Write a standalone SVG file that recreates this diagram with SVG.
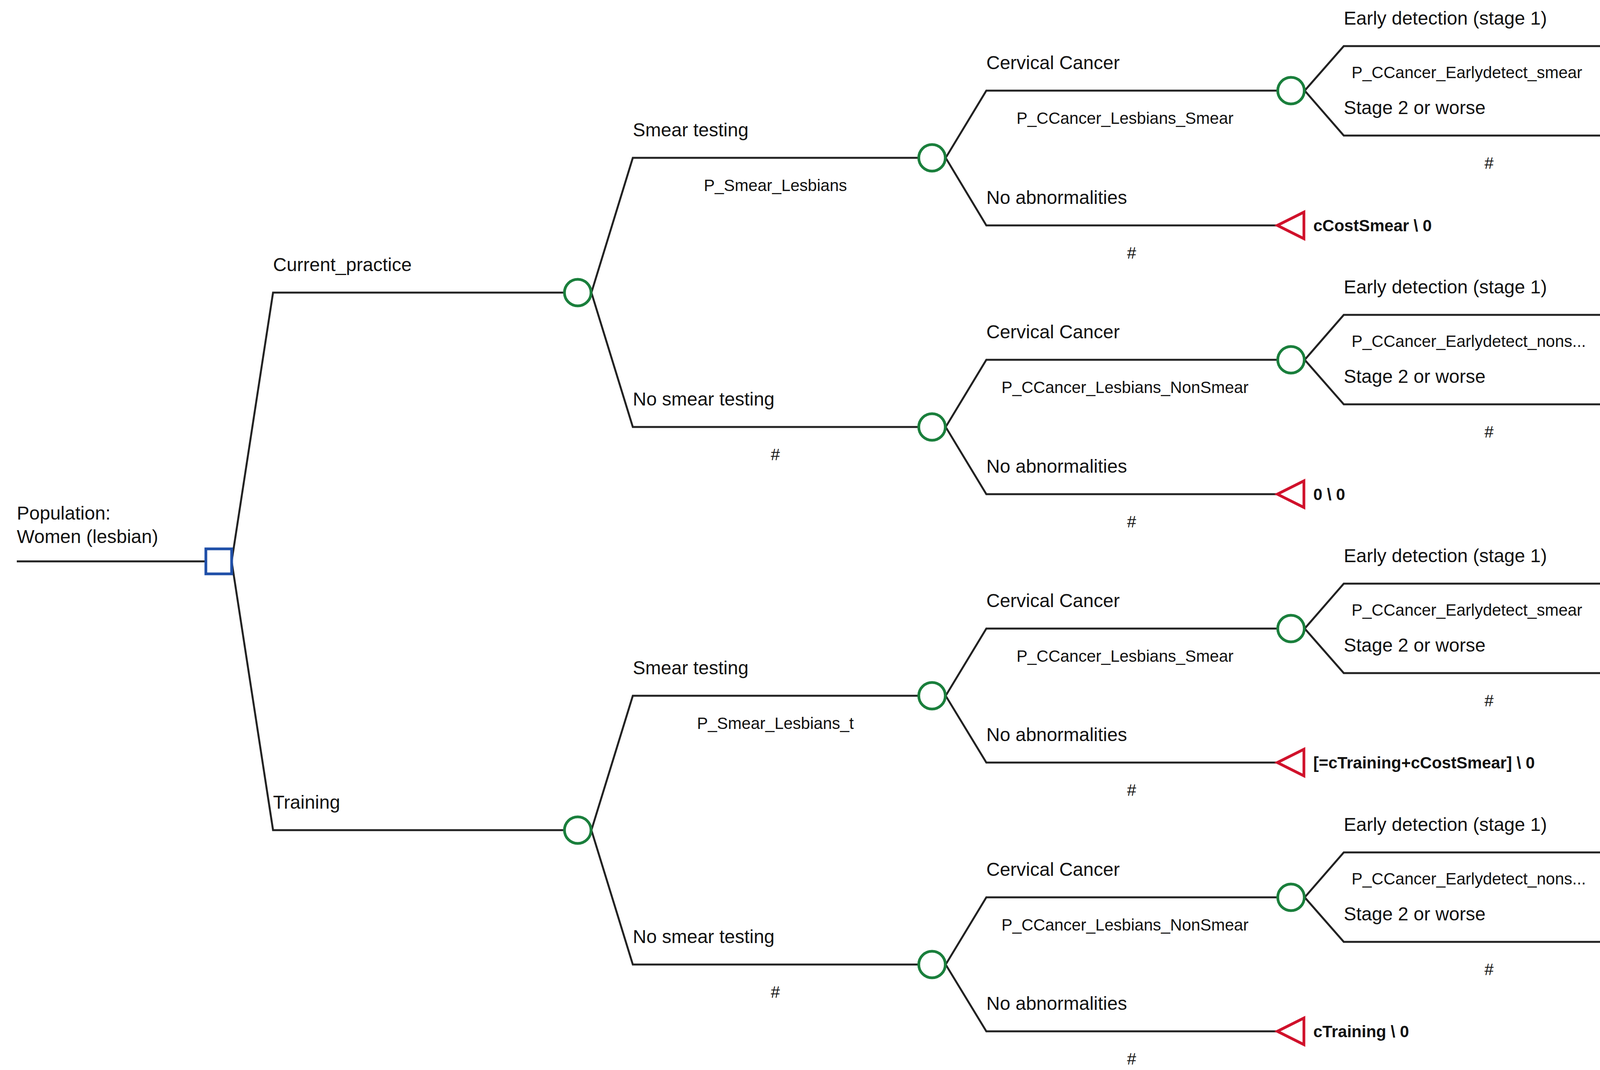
<svg xmlns="http://www.w3.org/2000/svg" width="5560" height="2739" viewBox="0 0 5560 2739">
<style>
text{font-family:"Liberation Sans",Arial,sans-serif;fill:#111}
.n{font-size:48px}
.p{font-size:42px}
.c{text-anchor:middle}
.t{font-size:42px;font-weight:bold}
.ln{fill:none;stroke:#222;stroke-width:5}
.ch{fill:#fff;stroke:#1a7f3c;stroke-width:7}
.tr{fill:#fff;stroke:#d0112b;stroke-width:7}
.dc{fill:#fff;stroke:#1f4fa8;stroke-width:7}
</style>
<rect width="5560" height="2739" fill="#fff"/>
<g id="connectors">
<polyline class="ln" points="43,1437 527,1437"/>
<polyline class="ln" points="593,1437 699,749 1444,749"/>
<polyline class="ln" points="593,1437 699,2125 1444,2125"/>
<polyline class="ln" points="1514,749 1620,404 2351,404"/>
<polyline class="ln" points="1514,749 1620,1093 2351,1093"/>
<polyline class="ln" points="1514,2125 1620,1781 2351,1781"/>
<polyline class="ln" points="1514,2125 1620,2469 2351,2469"/>
<polyline class="ln" points="2421,404 2525,232 3270,232"/>
<polyline class="ln" points="2421,404 2525,577 3270,577"/>
<polyline class="ln" points="2421,1093 2525,921 3270,921"/>
<polyline class="ln" points="2421,1093 2525,1265 3270,1265"/>
<polyline class="ln" points="2421,1781 2525,1609 3270,1609"/>
<polyline class="ln" points="2421,1781 2525,1952 3270,1952"/>
<polyline class="ln" points="2421,2469 2525,2297 3270,2297"/>
<polyline class="ln" points="2421,2469 2525,2640 3270,2640"/>
<polyline class="ln" points="3340,232 3440,118 4184,118"/>
<polyline class="ln" points="3340,232 3440,347 4184,347"/>
<polyline class="ln" points="3340,921 3440,806 4184,806"/>
<polyline class="ln" points="3340,921 3440,1035 4184,1035"/>
<polyline class="ln" points="3340,1609 3440,1494 4184,1494"/>
<polyline class="ln" points="3340,1609 3440,1723 4184,1723"/>
<polyline class="ln" points="3340,2297 3440,2182 4184,2182"/>
<polyline class="ln" points="3340,2297 3440,2411 4184,2411"/>
</g>
<g id="root"><rect class="dc" x="527" y="1405" width="66" height="64"/><text class="n" x="43" y="1330">Population:</text><text class="n" x="43" y="1390">Women (lesbian)</text></g>
<g id="branch-labels">
<text class="n" x="699" y="694">Current_practice</text>
<text class="n" x="699" y="2070">Training</text>
<text class="n" x="1620" y="349">Smear testing</text><text class="p c" x="1985" y="489">P_Smear_Lesbians</text>
<text class="n" x="1620" y="1038">No smear testing</text><text class="p c" x="1985" y="1178">#</text>
<text class="n" x="1620" y="1726">Smear testing</text><text class="p c" x="1985" y="1866">P_Smear_Lesbians_t</text>
<text class="n" x="1620" y="2414">No smear testing</text><text class="p c" x="1985" y="2554">#</text>
<text class="n" x="2525" y="177">Cervical Cancer</text><text class="p c" x="2880" y="317">P_CCancer_Lesbians_Smear</text>
<text class="n" x="2525" y="522">No abnormalities</text><text class="p c" x="2897" y="662">#</text>
<text class="n" x="2525" y="866">Cervical Cancer</text><text class="p c" x="2880" y="1006">P_CCancer_Lesbians_NonSmear</text>
<text class="n" x="2525" y="1210">No abnormalities</text><text class="p c" x="2897" y="1350">#</text>
<text class="n" x="2525" y="1554">Cervical Cancer</text><text class="p c" x="2880" y="1694">P_CCancer_Lesbians_Smear</text>
<text class="n" x="2525" y="1897">No abnormalities</text><text class="p c" x="2897" y="2037">#</text>
<text class="n" x="2525" y="2242">Cervical Cancer</text><text class="p c" x="2880" y="2382">P_CCancer_Lesbians_NonSmear</text>
<text class="n" x="2525" y="2585">No abnormalities</text><text class="p c" x="2897" y="2725">#</text>
<text class="n" x="3440" y="63">Early detection (stage 1)</text><text class="p" x="3460" y="200">P_CCancer_Earlydetect_smear</text>
<text class="n" x="3440" y="292">Stage 2 or worse</text><text class="p c" x="3812" y="432">#</text>
<text class="n" x="3440" y="751">Early detection (stage 1)</text><text class="p" x="3460" y="888">P_CCancer_Earlydetect_nons...</text>
<text class="n" x="3440" y="980">Stage 2 or worse</text><text class="p c" x="3812" y="1120">#</text>
<text class="n" x="3440" y="1439">Early detection (stage 1)</text><text class="p" x="3460" y="1576">P_CCancer_Earlydetect_smear</text>
<text class="n" x="3440" y="1668">Stage 2 or worse</text><text class="p c" x="3812" y="1808">#</text>
<text class="n" x="3440" y="2127">Early detection (stage 1)</text><text class="p" x="3460" y="2264">P_CCancer_Earlydetect_nons...</text>
<text class="n" x="3440" y="2356">Stage 2 or worse</text><text class="p c" x="3812" y="2496">#</text>
</g>
<g id="chance-nodes">
<circle id="c1" class="ch" cx="1479" cy="749" r="34"/>
<circle id="c2" class="ch" cx="1479" cy="2125" r="34"/>
<circle id="c3" class="ch" cx="2386" cy="404" r="34"/>
<circle id="c4" class="ch" cx="2386" cy="1093" r="34"/>
<circle id="c5" class="ch" cx="2386" cy="1781" r="34"/>
<circle id="c6" class="ch" cx="2386" cy="2469" r="34"/>
<circle id="c7" class="ch" cx="3305" cy="232" r="34"/>
<circle id="c8" class="ch" cx="3305" cy="921" r="34"/>
<circle id="c9" class="ch" cx="3305" cy="1609" r="34"/>
<circle id="c10" class="ch" cx="3305" cy="2297" r="34"/>
</g>
<g id="terminals">
<g id="t1"><polygon class="tr" points="4184,118 4252,84 4252,152"/><text class="t" x="4333" y="133">[=cCostSmear+cTreatment_earlydetect] \ 1</text></g>
<g id="t2"><polygon class="tr" points="4184,347 4252,313 4252,381"/><text class="t" x="4333" y="362">[=cCostSmear+cTreatment_Stage2] \ 1</text></g>
<g id="t3"><polygon class="tr" points="3270,577 3338,543 3338,611"/><text class="t" x="3362" y="592">cCostSmear \ 0</text></g>
<g id="t4"><polygon class="tr" points="4184,806 4252,772 4252,840"/><text class="t" x="4333" y="821">cTreatment_earlydetect \ 1</text></g>
<g id="t5"><polygon class="tr" points="4184,1035 4252,1001 4252,1069"/><text class="t" x="4333" y="1050">cTreatment_Stage2 \ 1</text></g>
<g id="t6"><polygon class="tr" points="3270,1265 3338,1231 3338,1299"/><text class="t" x="3362" y="1280">0 \ 0</text></g>
<g id="t7"><polygon class="tr" points="4184,1494 4252,1460 4252,1528"/><text class="t" x="4333" y="1509">[=cTraining+cCostSmear+cTreatment_earlydetect] \ 1</text></g>
<g id="t8"><polygon class="tr" points="4184,1723 4252,1689 4252,1757"/><text class="t" x="4333" y="1738">[=cTraining+cCostSmear+cTreatment_Stage2] \ 1</text></g>
<g id="t9"><polygon class="tr" points="3270,1952 3338,1918 3338,1986"/><text class="t" x="3362" y="1967">[=cTraining+cCostSmear] \ 0</text></g>
<g id="t10"><polygon class="tr" points="4184,2182 4252,2148 4252,2216"/><text class="t" x="4333" y="2197">[cTraining+cTreatment_earlydetect] \ 1</text></g>
<g id="t11"><polygon class="tr" points="4184,2411 4252,2377 4252,2445"/><text class="t" x="4333" y="2426">[cTraining+cTreatment_Stage2] \ 1</text></g>
<g id="t12"><polygon class="tr" points="3270,2640 3338,2606 3338,2674"/><text class="t" x="3362" y="2655">cTraining \ 0</text></g>
</g>
</svg>
